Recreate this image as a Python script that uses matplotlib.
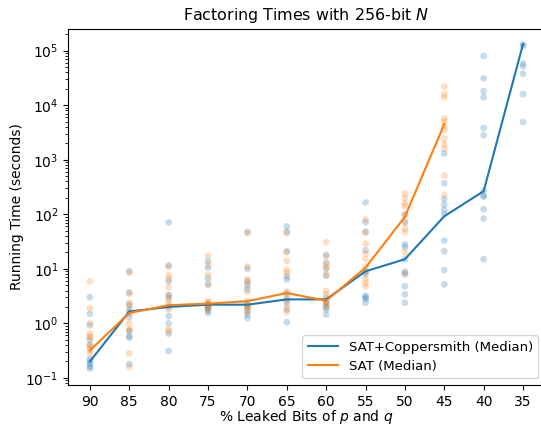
import numpy as np
import matplotlib
matplotlib.use("Agg")
import matplotlib.pyplot as plt

categories = ["90", "85", "80", "75", "70", "65", "60", "55", "50", "45", "40", "35"]

sat_copper_trials = {
    "90": [3.0, 1.5, 0.92, 0.5, 0.4, 0.22, 0.2, 0.18, 0.16, 0.15],
    "85": [9.0, 3.7, 2.2, 1.8, 1.6, 1.3, 0.72, 0.58, 0.55, 0.18],
    "80": [71, 11.5, 5.9, 3.3, 2.9, 2.0, 1.35, 1.0, 0.65, 0.31],
    "75": [14, 10.5, 6.7, 5.0, 2.3, 2.1, 2.0, 1.9, 1.7, 1.55],
    "70": [48, 10, 6.0, 5.0, 4.2, 2.2, 2.0, 1.7, 1.45, 1.25],
    "65": [60, 48, 21, 7.3, 6.4, 3.6, 2.8, 2.4, 1.8, 1.05],
    "60": [18, 13, 10, 7.5, 2.9, 2.5, 2.3, 2.0, 1.8, 1.45],
    "55": [165, 72, 48, 22, 9, 8, 3.2, 3.0, 2.8, 2.4],
    "50": [97, 70, 28, 25, 15, 8.8, 7.9, 4.8, 3.4, 2.4],
    "45": [1300, 370, 190, 150, 120, 100, 33, 21, 9.5, 5.2],
    "40": [80000, 31000, 18000, 14000, 3800, 2800, 270, 220, 210, 124, 83, 15],
    "35": [130000, 122000, 58000, 52000, 38000, 16000, 4900],
}

sat_trials = {
    "90": [5.9, 1.9, 1.0, 0.65, 0.58, 0.55, 0.4, 0.35, 0.32, 0.28],
    "85": [8.5, 3.5, 2.4, 2.1, 1.5, 1.0, 0.78, 0.75, 0.28, 0.16],
    "80": [11, 7.6, 6.5, 4.6, 3.3, 2.6, 2.2, 1.8, 0.78, 0.72],
    "75": [17.5, 12, 7.8, 5.4, 2.6, 2.4, 2.3, 2.2, 2.0, 1.8],
    "70": [45, 11, 6.4, 5.5, 3.8, 2.6, 2.2, 2.0, 1.9, 1.6],
    "65": [45, 20, 14, 9.5, 8.5, 3.8, 3.3, 2.6, 2.0, 1.6],
    "60": [31, 17, 12, 10.5, 7.8, 3.9, 3.4, 2.6, 2.3, 2.0],
    "55": [80, 46, 29, 19, 15, 11, 8.5, 6.5, 5.5, 4.8],
    "50": [240, 200, 160, 140, 100, 75, 55, 47, 20, 8.5],
    "45": [22000, 16000, 14000, 5700, 5000, 4200, 3500, 2400, 1900, 1600, 510, 225],
}

sat_copper_median = [0.2, 1.65, 2.0, 2.2, 2.2, 2.75, 2.75, 9.0, 15, 92, 265, 132000]
sat_median = [0.32, 1.55, 2.15, 2.3, 2.55, 3.6, 2.6, 10.5, 90, 4500]

fig = plt.figure(figsize=(5.41, 4.24), dpi=100)
ax = fig.add_axes([0.1262, 0.092, 0.8806, 0.840])

pos = {c: i for i, c in enumerate(categories)}

for c, vals in sat_copper_trials.items():
    ax.scatter([pos[c]] * len(vals), vals, s=24, color="C0", alpha=0.25,
               edgecolors="none", zorder=2)
for c, vals in sat_trials.items():
    ax.scatter([pos[c]] * len(vals), vals, s=24, color="C1", alpha=0.25,
               edgecolors="none", zorder=2)

ax.plot(range(len(sat_copper_median)), sat_copper_median, color="C0", lw=1.5,
        label="SAT+Coppersmith (Median)", zorder=3)
ax.plot(range(len(sat_median)), sat_median, color="C1", lw=1.5,
        label="SAT (Median)", zorder=3)

ax.set_yscale("log")
ax.set_xlim(-0.55, len(categories) - 1 + 0.55)
ax.set_ylim(10 ** -1.13, 10 ** 5.40)
ax.set_xticks(range(len(categories)))
ax.set_xticklabels(categories)
ax.set_xlabel("% Leaked Bits of $p$ and $q$", labelpad=-0.5)
ax.set_ylabel("Running Time (seconds)", labelpad=1)
ax.set_title("Factoring Times with 256-bit $N$", fontsize=11.4)
ax.spines["right"].set_visible(False)
ax.legend(loc="lower right", fontsize=9.5, handlelength=2.3)

fig.savefig("out.png", dpi=100)
